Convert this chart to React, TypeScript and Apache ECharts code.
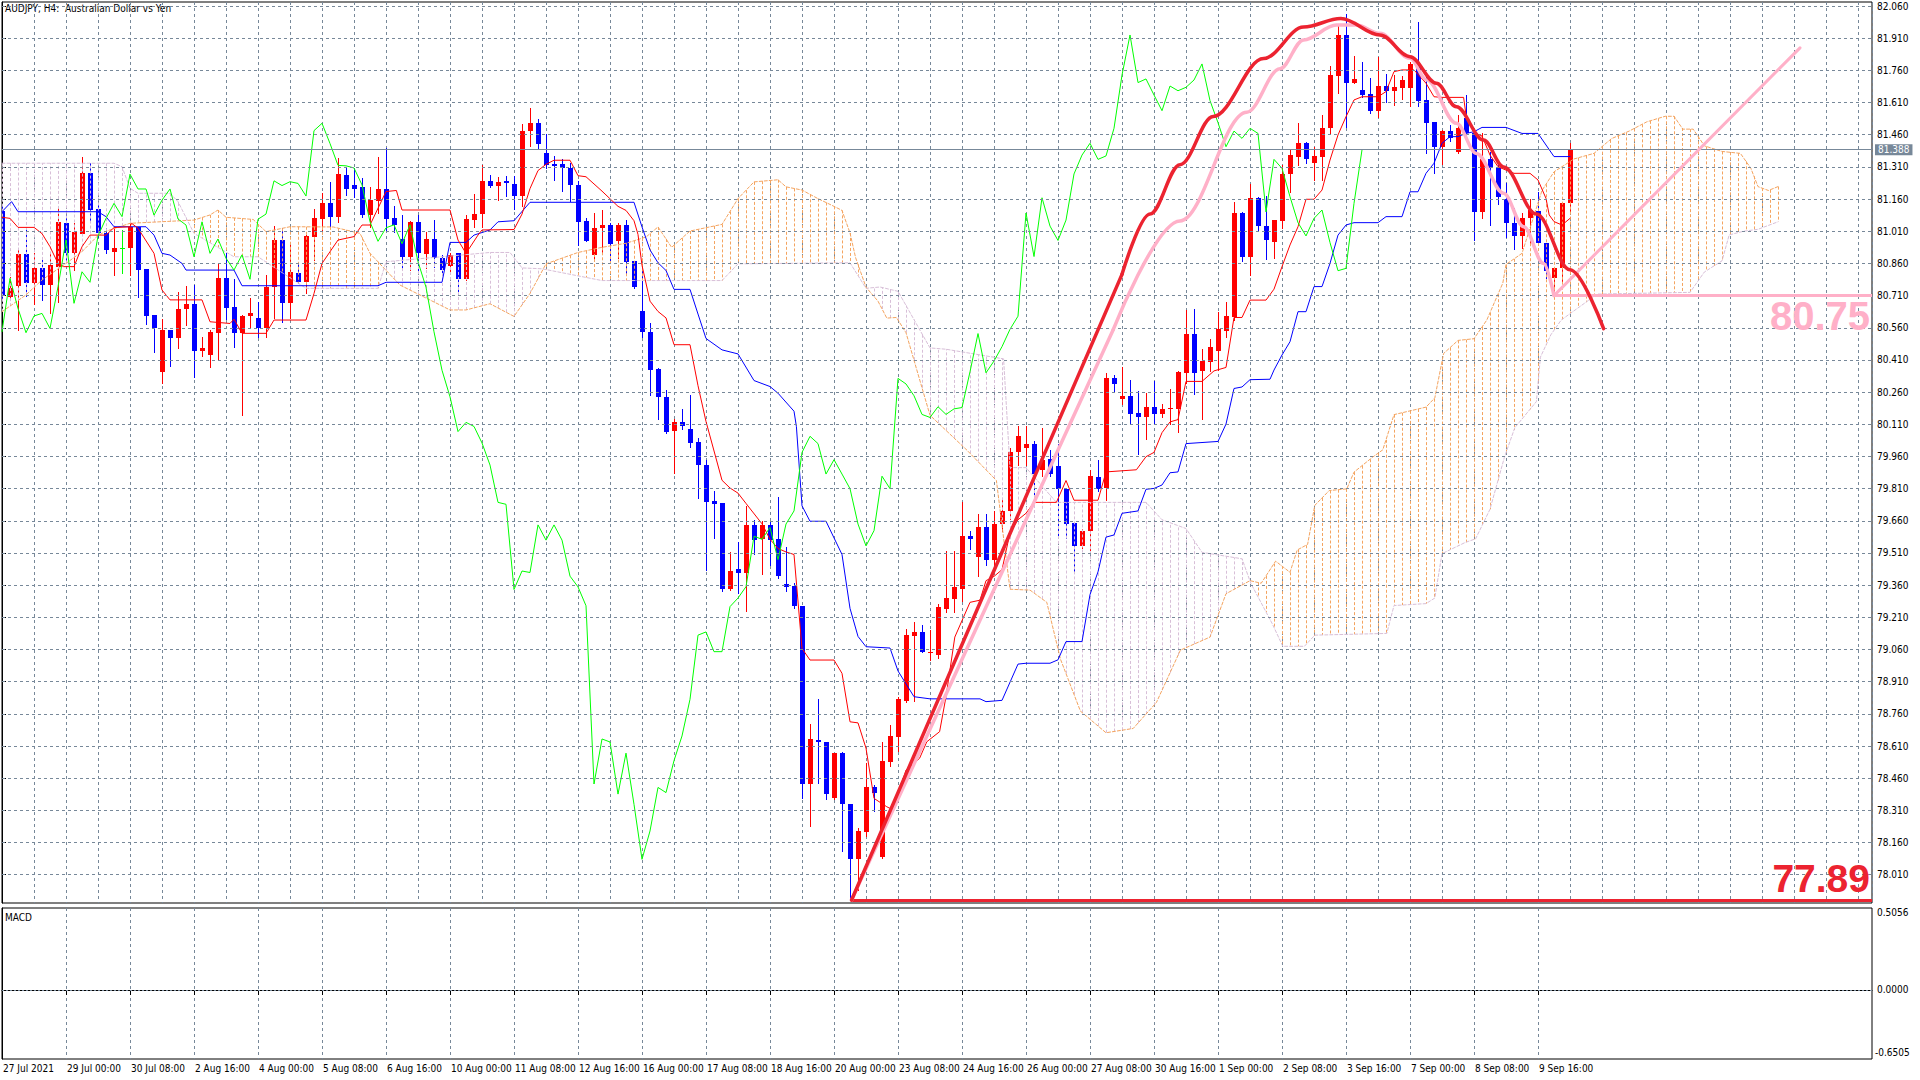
import React, { useEffect, useRef } from "react";
import * as echarts from "echarts";

// ---------- DATA ----------
// H4 candles, bar 0 = 27 Jul 2021 16:00 ... bar 196 = 10 Sep 2021 08:00
const opens = [
  81.106, 80.705, 80.756, 80.902, 80.767, 80.837, 80.76, 80.845, 81.047, 80.907,
  80.999, 81.28, 81.113, 81.0, 80.915, 80.933, 80.933, 81.03, 80.834, 80.62,
  80.355, 80.549, 80.514, 80.646, 80.67, 80.453, 80.434, 80.537, 80.79, 80.655,
  80.537, 80.617, 80.604, 80.557, 80.751, 80.97, 80.674, 80.814, 80.772, 80.985,
  81.067, 81.14, 81.078, 81.272, 81.226, 81.217, 81.085, 81.15, 81.207, 81.07,
  80.974, 80.891, 81.054, 80.904, 80.974, 80.884, 80.85, 80.907, 80.786, 81.063,
  81.089, 81.245, 81.222, 81.245, 81.228, 81.174, 81.479, 81.513, 81.376, 81.322,
  81.322, 81.305, 81.226, 81.059, 80.899, 81.026, 81.04, 80.963, 81.04, 80.873,
  80.636, 80.541, 80.367, 80.238, 80.08, 80.119, 80.088, 80.028, 79.92, 79.751,
  79.741, 79.34, 79.436, 79.419, 79.641, 79.574, 79.641, 79.574, 79.364, 79.355,
  79.264, 78.433, 78.638, 78.629, 78.369, 78.577, 78.338, 78.082, 78.209, 78.417,
  78.092, 78.537, 78.653, 78.821, 79.125, 79.142, 79.045, 79.034, 79.25, 79.296,
  79.341, 79.588, 79.493, 79.629, 79.479, 79.645, 79.706, 79.979, 80.0, 80.02,
  79.898, 79.95, 79.915, 79.81, 79.649, 79.543, 79.614, 79.864, 79.815, 80.324,
  80.229, 80.243, 80.162, 80.142, 80.192, 80.156, 80.18, 80.182, 80.35, 80.533,
  80.359, 80.4, 80.452, 80.547, 80.608, 81.095, 80.892, 81.166, 81.034, 80.96,
  81.059, 81.277, 81.358, 81.42, 81.327, 81.358, 81.49, 81.734, 81.925, 81.703,
  81.668, 81.65, 81.572, 81.687, 81.665, 81.676, 81.676, 81.785, 81.622, 81.521,
  81.404, 81.477, 81.381, 81.536, 81.466, 81.1, 81.345, 81.303, 81.159, 81.05,
  80.988, 81.07, 81.106, 80.957, 80.79, 80.837, 81.14,
];
const highs = [
  81.13, 80.798, 80.93, 81.03, 80.91, 80.875, 80.915, 81.117, 81.085, 81.047,
  81.357, 81.327, 81.132, 81.024, 81.024, 81.015, 81.054, 81.03, 80.834, 80.62,
  80.6, 80.549, 80.728, 80.756, 80.76, 80.518, 80.549, 80.863, 80.91, 80.786,
  80.62, 80.697, 80.681, 80.806, 81.033, 81.024, 80.946, 80.868, 80.992, 81.112,
  81.187, 81.241, 81.35, 81.311, 81.303, 81.257, 81.217, 81.358, 81.396, 81.128,
  81.085, 81.06, 81.085, 81.008, 81.063, 80.899, 80.907, 80.907, 81.085, 81.184,
  81.319, 81.272, 81.264, 81.269, 81.269, 81.508, 81.584, 81.532, 81.465, 81.36,
  81.345, 81.329, 81.245, 81.071, 81.097, 81.107, 81.047, 81.047, 81.061, 80.873,
  80.839, 80.584, 80.374, 80.271, 80.135, 80.183, 80.247, 80.047, 79.944, 79.801,
  79.741, 79.515, 79.562, 79.729, 79.665, 79.658, 79.658, 79.77, 79.538, 79.371,
  79.264, 78.715, 78.829, 78.629, 78.577, 78.584, 78.338, 78.226, 78.529, 78.429,
  78.63, 78.708, 78.84, 79.154, 79.19, 79.174, 79.151, 79.27, 79.519, 79.519,
  79.75, 79.614, 79.69, 79.69, 79.706, 79.756, 80.0, 80.101, 80.1, 80.034,
  80.091, 79.99, 80.02, 79.81, 79.649, 79.624, 79.898, 79.945, 80.35, 80.338,
  80.379, 80.318, 80.263, 80.257, 80.314, 80.203, 80.273, 80.359, 80.643, 80.649,
  80.46, 80.507, 80.634, 80.679, 81.146, 81.101, 81.231, 81.17, 81.176, 81.064,
  81.319, 81.389, 81.516, 81.428, 81.404, 81.552, 81.78, 81.971, 82.023, 81.827,
  81.8, 81.723, 81.824, 81.743, 81.738, 81.734, 81.8, 81.987, 81.734, 81.521,
  81.482, 81.505, 81.552, 81.645, 81.482, 81.466, 81.381, 81.326, 81.236, 81.117,
  81.093, 81.159, 81.194, 80.957, 80.845, 81.148, 81.42,
];
const lows = [
  80.7, 80.69, 80.55, 80.71, 80.67, 80.69, 80.627, 80.681, 80.876, 80.829,
  80.992, 81.062, 80.985, 80.907, 80.806, 80.813, 80.806, 80.705, 80.578, 80.448,
  80.301, 80.383, 80.464, 80.572, 80.332, 80.43, 80.378, 80.41, 80.6, 80.47,
  80.153, 80.557, 80.518, 80.518, 80.604, 80.588, 80.604, 80.767, 80.72, 80.876,
  81.016, 81.031, 81.054, 81.18, 81.171, 81.078, 81.031, 81.094, 81.016, 81.008,
  80.829, 80.829, 80.829, 80.837, 80.845, 80.814, 80.814, 80.713, 80.783, 81.031,
  81.031, 81.217, 81.155, 81.174, 81.114, 81.126, 81.407, 81.4, 81.305, 81.25,
  81.197, 81.15, 80.947, 80.963, 80.875, 80.911, 80.863, 80.887, 80.804, 80.744,
  80.517, 80.247, 80.135, 80.071, 79.885, 80.088, 80.004, 79.765, 79.431, 79.579,
  79.331, 79.336, 79.324, 79.24, 79.503, 79.412, 79.455, 79.395, 79.331, 79.252,
  78.369, 78.238, 78.44, 78.362, 78.362, 78.123, 77.891, 77.939, 78.19, 78.309,
  78.087, 78.518, 78.588, 78.817, 78.821, 79.047, 79.011, 79.02, 79.236, 79.235,
  79.284, 79.527, 79.401, 79.452, 79.422, 79.614, 79.669, 79.919, 79.92, 79.787,
  79.868, 79.868, 79.58, 79.58, 79.416, 79.533, 79.523, 79.797, 79.756, 80.263,
  80.203, 80.111, 79.973, 80.04, 80.111, 80.142, 80.111, 80.075, 80.304, 80.253,
  80.136, 80.359, 80.365, 80.517, 80.598, 80.872, 80.805, 81.014, 80.882, 80.884,
  81.023, 81.194, 81.319, 81.327, 81.249, 81.249, 81.469, 81.656, 81.497, 81.7,
  81.637, 81.56, 81.541, 81.614, 81.6, 81.625, 81.594, 81.594, 81.376, 81.283,
  81.323, 81.432, 81.376, 81.451, 80.969, 81.07, 81.039, 81.137, 80.985, 80.926,
  80.93, 80.954, 80.946, 80.79, 80.72, 80.767, 81.093,
];
const closes = [
  80.71, 80.744, 80.902, 80.767, 80.837, 80.76, 80.853, 81.054, 80.907, 81.008,
  81.28, 81.109, 81.0, 80.922, 80.934, 80.933, 81.03, 80.83, 80.617, 80.558,
  80.549, 80.514, 80.648, 80.67, 80.453, 80.466, 80.542, 80.79, 80.65, 80.537,
  80.615, 80.627, 80.557, 80.751, 80.97, 80.674, 80.821, 80.772, 80.988, 81.07,
  81.14, 81.078, 81.276, 81.207, 81.207, 81.085, 81.155, 81.207, 81.067, 81.039,
  80.891, 81.054, 80.907, 80.974, 80.884, 80.829, 80.9, 80.786, 81.066, 81.09,
  81.245, 81.223, 81.241, 81.233, 81.174, 81.479, 81.513, 81.419, 81.317, 81.315,
  81.305, 81.226, 81.054, 80.963, 81.026, 81.04, 80.952, 81.04, 80.868, 80.749,
  80.541, 80.362, 80.238, 80.076, 80.119, 80.1, 80.023, 79.92, 79.746, 79.737,
  79.34, 79.426, 79.419, 79.641, 79.57, 79.641, 79.57, 79.402, 79.352, 79.264,
  78.433, 78.643, 78.629, 78.386, 78.577, 78.338, 78.082, 78.214, 78.417, 78.393,
  78.542, 78.657, 78.828, 79.127, 79.142, 79.05, 79.05, 79.26, 79.3, 79.353,
  79.588, 79.574, 79.629, 79.479, 79.645, 79.706, 79.979, 80.054, 80.02, 79.878,
  79.945, 79.878, 79.81, 79.645, 79.543, 79.614, 79.868, 79.81, 80.324, 80.298,
  80.243, 80.156, 80.142, 80.192, 80.156, 80.182, 80.188, 80.355, 80.533, 80.35,
  80.405, 80.472, 80.553, 80.614, 81.095, 80.892, 81.166, 81.034, 80.967, 81.062,
  81.277, 81.365, 81.42, 81.345, 81.361, 81.49, 81.738, 81.925, 81.703, 81.72,
  81.645, 81.572, 81.687, 81.665, 81.681, 81.715, 81.79, 81.619, 81.516, 81.404,
  81.477, 81.443, 81.49, 81.466, 81.1, 81.345, 81.303, 81.171, 81.05, 80.988,
  81.07, 81.109, 80.957, 80.826, 80.837, 81.14, 81.389,
];

// Ichimoku lines, read as [bar, price] vertices
const tenkan = [
  [0, 81.075], [1, 81.07], [2, 81.028], [4, 81.028], [5, 80.999], [6, 80.938], [7, 80.86],
  [7.7, 80.845], [9, 80.845], [10, 80.938], [11, 80.992], [13, 80.992], [14, 81.027],
  [16, 81.031], [16.2, 81.047], [17, 81.024], [19, 80.907], [20, 80.736], [21, 80.69],
  [25, 80.69], [26, 80.588], [28.5, 80.58], [29, 80.6], [30, 80.534], [33, 80.534],
  [34, 80.596], [38, 80.596], [39, 80.72], [40, 80.86], [42, 80.969], [44, 80.985],
  [45, 81.039], [46, 81.039], [48, 81.195], [49.3, 81.2], [50, 81.109], [56, 81.109],
  [57, 80.969], [58, 80.907], [59.5, 80.992], [60, 81.016], [64, 81.018], [65, 81.09],
  [66, 81.209], [67, 81.293], [68, 81.322], [69, 81.341], [71, 81.341], [72, 81.269],
  [73, 81.264], [75, 81.197], [77, 81.126], [78, 81.107], [79, 81.059], [79.5, 80.995],
  [80, 80.851], [81, 80.684], [82, 80.636], [83, 80.606], [84, 80.481], [86, 80.481],
  [87, 80.29], [88, 80.123], [90, 79.849], [91, 79.813], [92, 79.789], [93, 79.741],
  [95, 79.646], [96, 79.574], [97, 79.531], [98, 79.515], [99, 79.503], [100, 79.065],
  [101, 79.011], [104, 79.011], [105, 78.949], [106, 78.723], [107, 78.718], [108, 78.6],
  [109, 78.366], [110.6, 78.327], [111.4, 78.312], [113, 78.498], [114.7, 78.553],
  [115.6, 78.63], [117.2, 78.677], [118, 78.84], [119.1, 79.118], [121, 79.28],
  [122.25, 79.29], [123, 79.381], [124, 79.401], [125, 79.432], [126, 79.604],
  [127, 79.665], [128, 79.695], [129, 79.746], [131.8, 79.746], [133, 79.848],
  [134, 79.756], [137, 79.756], [138, 79.888], [141.8, 79.898], [143, 79.959],
  [144, 79.979], [145, 80.071], [146, 80.121], [147, 80.132], [148, 80.31], [150, 80.31],
  [151.5, 80.359], [153, 80.375], [154, 80.608], [155, 80.608], [156, 80.689],
  [158, 80.689], [159, 80.74], [160, 80.845], [161, 80.946], [162, 81.031], [163, 81.159],
  [164, 81.159], [165, 81.202], [166, 81.342], [167, 81.459], [168, 81.544],
  [169, 81.622], [170, 81.637], [172, 81.637], [173, 81.661], [174, 81.754],
  [175, 81.762], [176.5, 81.762], [178, 81.7], [179, 81.637], [180, 81.634],
  [182.7, 81.634], [183, 81.552], [184, 81.47], [185, 81.454], [186, 81.365],
  [187, 81.311], [188, 81.295], [189, 81.28], [191, 81.28], [192, 81.249], [193, 81.163],
  [193.4, 81.086], [194, 81.055], [195, 81.039], [196, 81.07],
];
const kijun = [
  [0, 81.101], [1.2, 81.148], [2, 81.101], [12, 81.101], [13, 81.078], [14, 81.031],
  [18, 81.031], [19, 80.992], [20, 80.907], [21, 80.899], [22.5, 80.86], [23, 80.829],
  [29, 80.829], [30, 80.756], [47, 80.756], [48, 80.772], [55, 80.772], [56, 80.958],
  [58, 80.958], [59, 80.992], [61, 81.016], [62, 81.054], [64, 81.059], [66, 81.145],
  [79, 81.145], [80, 81.03], [81, 80.923], [82, 80.863], [83, 80.827], [84, 80.739],
  [86, 80.739], [87, 80.624], [88, 80.51], [90, 80.457], [92, 80.438], [94, 80.314],
  [96, 80.286], [97, 80.255], [99, 80.171], [99.3, 80.1], [100, 79.73], [101, 79.658],
  [103, 79.658], [105, 79.503], [106, 79.252], [107, 79.121], [108, 79.073],
  [111, 79.067], [112, 78.96], [114, 78.84], [116, 78.83], [122.25, 78.83],
  [123, 78.817], [125, 78.823], [127, 78.992], [128, 78.996], [131, 78.996],
  [132, 79.012], [133, 79.097], [135, 79.097], [136, 79.316], [137, 79.422],
  [138, 79.584], [139, 79.594], [140, 79.695], [142, 79.706], [143, 79.807],
  [144, 79.811], [145, 79.827], [146, 79.884], [147, 79.888], [148, 80.02], [152, 80.03],
  [153, 80.111], [154, 80.277], [155, 80.284], [156, 80.318], [158.5, 80.32],
  [159, 80.363], [160, 80.433], [161, 80.495], [162, 80.635], [163, 80.635],
  [164, 80.752], [165, 80.752], [166, 80.86], [167, 80.992], [168, 81.039], [169, 81.05],
  [172, 81.05], [173, 81.078], [175, 81.078], [176, 81.194], [177, 81.194], [178, 81.28],
  [179, 81.327], [180, 81.42], [181, 81.451], [182, 81.451], [183, 81.466],
  [184, 81.474], [185, 81.494], [188, 81.494], [190, 81.466], [192, 81.466],
  [194, 81.358], [196, 81.358],
];
const senkouA = [
  [0, 80.635], [3, 80.713], [5, 80.783], [8, 80.86], [10, 80.915], [12, 80.99],
  [13, 81.01], [16, 81.047], [24, 81.062], [26, 81.086], [27, 81.109], [28, 81.075],
  [31.4, 81.065], [33, 81.008], [36, 81.031], [41.4, 81.03], [44.75, 81.0], [46, 80.907],
  [49.75, 80.759], [51.8, 80.721], [56, 80.643], [58, 80.643], [61, 80.672],
  [64, 80.613], [66, 80.72], [68, 80.858], [72, 80.911], [75, 80.935], [78, 80.954],
  [80.5, 80.983], [82, 81.03], [83.7, 80.935], [85, 80.978], [86, 81.011], [90, 81.042],
  [92, 81.162], [94, 81.24], [97, 81.25], [98, 81.217], [100, 81.202], [102, 81.162],
  [104, 81.126], [105, 81.107], [106, 81.002], [106.7, 80.887], [108, 80.749],
  [109.5, 80.684], [110.6, 80.605], [111.8, 80.608], [113, 80.537], [116, 80.152],
  [120.6, 79.99], [124.3, 79.848], [126, 79.341], [128.5, 79.337], [130.6, 79.28],
  [132.3, 79.016], [134.8, 78.773], [138, 78.672], [141.4, 78.692], [144.3, 78.813],
  [147.3, 79.057], [151, 79.118], [153, 79.32], [156, 79.381], [157.4, 79.369],
  [159.2, 79.472], [161, 79.42], [161.9, 79.524], [163.2, 79.55], [164.1, 79.732],
  [165.9, 79.801], [168.1, 79.809], [169, 79.887], [171.3, 79.956], [172.6, 79.991],
  [174, 80.155], [178, 80.19], [179.1, 80.233], [180.2, 80.44], [182, 80.501],
  [184, 80.509], [185.6, 80.596], [187.6, 80.768], [188, 80.855], [190, 80.907],
  [192.5, 81.2], [194, 81.287], [196.5, 81.347], [199, 81.373], [201.2, 81.442],
  [203.4, 81.477], [205.6, 81.52], [207.9, 81.546], [209, 81.546], [210.1, 81.486],
  [211.4, 81.486], [212.8, 81.408], [215, 81.382], [217.3, 81.373], [218.6, 81.304],
  [219.5, 81.218], [220.8, 81.2], [222, 81.218],
];
const senkouB = [
  [0, 81.327], [14, 81.327], [15, 81.311], [16, 81.21], [17, 81.187], [21, 81.187],
  [22, 81.148], [24, 81.0], [29, 80.891], [32, 80.891], [38, 80.744], [47, 80.744],
  [48, 80.868], [61, 80.911], [63.5, 80.911], [65, 80.839], [67.5, 80.835], [75, 80.78],
  [90, 80.78], [92, 80.858], [106, 80.863], [108, 80.744], [109.75, 80.75], [112, 80.73],
  [116, 80.466], [118, 80.46], [125.2, 80.415], [126, 79.908], [128, 79.908],
  [131.8, 79.746], [143, 79.746], [145, 79.665], [148, 79.624], [150, 79.513],
  [155, 79.483], [156.1, 79.369], [158.8, 79.179], [160.1, 79.075], [162.8, 79.075],
  [164.1, 79.127], [173.1, 79.135], [174, 79.265], [178, 79.274], [179.1, 79.3],
  [180, 79.507], [182.9, 79.559], [184.2, 79.576], [186, 79.714], [187.8, 79.956],
  [189.1, 80.094], [191.8, 80.216], [192.3, 80.423], [193.6, 80.527], [194.9, 80.596],
  [196.5, 80.639], [199.4, 80.717], [211, 80.725], [212.8, 80.82], [215, 80.872],
  [215.9, 80.993], [217.7, 81.01], [219.5, 81.019], [222, 81.054],
];
const chikouShift = 26;
const cloudLastBar = 222;

// Hand-drawn objects, [bar, price]
const redLeg = [[106.2, 77.892], [140, 80.809]];
const redArc = [
  [140, 80.809], [143.5, 81.09], [147.25, 81.32], [151.4, 81.545], [157.7, 81.815],
  [162.7, 81.962], [167.35, 82.002], [172.25, 81.925], [176, 81.824], [179.3, 81.7],
  [181.8, 81.59], [185.2, 81.435], [187.7, 81.31], [191.8, 81.09], [196, 80.83],
  [200.2, 80.556],
];
const pinkLeg = [[106.2, 77.892], [138.9, 80.551]];
const pinkArc = [
  [138.9, 80.551], [147.25, 81.058], [155.6, 81.565], [159.75, 81.768], [162.7, 81.902],
  [166.8, 81.971], [169.3, 81.971], [172.25, 81.933], [176, 81.816], [178.1, 81.715],
  [181.8, 81.513], [184.3, 81.373], [187.7, 81.187], [190.2, 81.031], [192.7, 80.86],
  [194, 80.71],
];
const pinkRise = [[194, 80.71], [224.75, 81.865]];
const lowLevel = { fromBar: 106.1, price: 77.892, label: "77.89" };
const pinkLevel = { fromBar: 194, price: 80.71, label: "80.75" };
const currentPrice = 81.388;

const priceTicks = [
  82.06, 81.91, 81.76, 81.61, 81.46, 81.31, 81.16, 81.01, 80.86, 80.71, 80.56, 80.41,
  80.26, 80.11, 79.96, 79.81, 79.66, 79.51, 79.36, 79.21, 79.06, 78.91, 78.76, 78.61,
  78.46, 78.31, 78.16, 78.01,
];
const xTickBars = [0, 8, 16, 24, 32, 40, 48, 56, 64, 72, 80, 88, 96, 104, 112, 120, 128, 136, 144, 152, 160, 168, 176, 184, 192];
const xTickLabels = [
  "27 Jul 2021", "29 Jul 00:00", "30 Jul 08:00", "2 Aug 16:00", "4 Aug 00:00",
  "5 Aug 08:00", "6 Aug 16:00", "10 Aug 00:00", "11 Aug 08:00", "12 Aug 16:00",
  "16 Aug 00:00", "17 Aug 08:00", "18 Aug 16:00", "20 Aug 00:00", "23 Aug 08:00",
  "24 Aug 16:00", "26 Aug 00:00", "27 Aug 08:00", "30 Aug 16:00", "1 Sep 00:00",
  "2 Sep 08:00", "3 Sep 16:00", "7 Sep 00:00", "8 Sep 08:00", "9 Sep 16:00",
];
const macdScaleLabels = ["0.5056", "0.0000", "-0.6505"];
const title = "AUDJPY, H4:  Australian Dollar vs Yen";

// ---------- STYLE ----------
const FONT = "'DejaVu Sans Condensed', 'Liberation Sans Narrow', 'Liberation Sans', sans-serif";
const FS = 10;
const GRIDC = "#778899";
const BULL = "#FF0000";
const BEAR = "#0000FF";
const DOJI = "#00FF00";
const SANDY = "#F4A460";
const THISTLE = "#D8BFD8";
const RED_OBJ = "#EC2330";
const PINK_OBJ = "#FFB0C8";

const Y_MIN = 77.8783;
const Y_MAX = 82.0787;
const X_MAX = 233.75;

function valueAt(poly: number[][], x: number): number | null {
  if (x < poly[0][0] || x > poly[poly.length - 1][0]) return null;
  for (let k = 0; k < poly.length - 1; k++) {
    const a = poly[k], b = poly[k + 1];
    if (x >= a[0] && x <= b[0]) {
      if (b[0] === a[0]) return a[1];
      return a[1] + ((b[1] - a[1]) * (x - a[0])) / (b[0] - a[0]);
    }
  }
  return null;
}

export default function App() {
  const ref = useRef<HTMLDivElement>(null);
  useEffect(() => {
    if (!ref.current) return;
    const chart = echarts.init(ref.current, null, { renderer: "svg" });
    const candleData = opens.map((o, i) => [i, o, highs[i], lows[i], closes[i]]);
    const chikou = closes.slice(chikouShift).map((c, j) => [j, c]);
    const cloudBars: number[][] = [];
    for (let j = 0; j <= cloudLastBar; j++) cloudBars.push([j]);
    const labelMap: Record<number, string> = {};
    xTickBars.forEach((b, k) => (labelMap[b] = xTickLabels[k]));

    const lineSeries = (name: string, data: number[][], color: string, width: number, extra: any = {}) => ({
      name,
      type: "line",
      xAxisIndex: 0,
      yAxisIndex: 0,
      data,
      showSymbol: false,
      symbol: "none",
      lineStyle: { color, width, cap: "round", join: "round", ...(extra.lineStyle || {}) },
      z: extra.z ?? 3,
      smooth: extra.smooth ?? false,
      smoothMonotone: extra.smoothMonotone,
      silent: true,
      clip: true,
    });

    const option: any = {
      animation: false,
      backgroundColor: "#ffffff",
      grid: [
        { left: 2, top: 2, width: 1870, height: 901, show: true, borderColor: "#000", borderWidth: 1, backgroundColor: "transparent" },
        { left: 2, top: 908, width: 1870, height: 151, show: true, borderColor: "#000", borderWidth: 1, backgroundColor: "transparent" },
      ],
      xAxis: [
        {
          type: "value", gridIndex: 0, min: 0, max: X_MAX, interval: 4,
          axisLine: { show: false }, axisTick: { show: false }, axisLabel: { show: false },
          splitLine: { show: true, lineStyle: { color: GRIDC, type: [3, 3], width: 1 } },
        },
        {
          type: "value", gridIndex: 1, min: 0, max: X_MAX, interval: 4,
          axisLine: { show: true, lineStyle: { color: "#000" } },
          axisTick: { show: true, customValues: xTickBars, length: 5, lineStyle: { color: "#000" } },
          axisLabel: {
            show: true, customValues: xTickBars, formatter: (v: number) => labelMap[Math.round(v)] || "",
            align: "left", margin: 4, fontSize: FS, fontFamily: FONT, color: "#000", padding: [0, 0, 0, 1],
          },
          splitLine: { show: true, lineStyle: { color: GRIDC, type: [3, 3], width: 1 } },
        },
      ],
      yAxis: [
        {
          type: "value", gridIndex: 0, position: "right", min: Y_MIN, max: Y_MAX,
          axisLine: { show: true, lineStyle: { color: "#000" } },
          axisTick: { show: true, customValues: priceTicks, length: 4, lineStyle: { color: "#000" } },
          axisLabel: {
            show: true, customValues: priceTicks, formatter: (v: number) => v.toFixed(3),
            margin: 5, fontSize: FS, fontFamily: FONT, color: "#000",
          },
          splitLine: { show: false },
        },
        {
          type: "value", gridIndex: 1, position: "right", min: -69, max: 82,
          axisLine: { show: true, lineStyle: { color: "#000" } },
          axisTick: { show: false }, axisLabel: { show: false }, splitLine: { show: false },
        },
      ],
      graphic: [
        { type: "text", left: 5, top: 3, silent: true, style: { text: title, fill: "#000", fontSize: FS, fontFamily: FONT } },
        { type: "text", left: 5, top: 912, silent: true, style: { text: "MACD", fill: "#000", fontSize: FS, fontFamily: FONT } },
        { type: "text", left: 1877, top: 907, silent: true, style: { text: macdScaleLabels[0], fill: "#000", fontSize: FS, fontFamily: FONT } },
        { type: "text", left: 1877, top: 984, silent: true, style: { text: macdScaleLabels[1], fill: "#000", fontSize: FS, fontFamily: FONT } },
        { type: "text", left: 1875, top: 1047, silent: true, style: { text: macdScaleLabels[2], fill: "#000", fontSize: FS, fontFamily: FONT } },
      ],
      series: [
        {
          name: "priceGrid", type: "line", xAxisIndex: 0, yAxisIndex: 0, data: [], z: 1, silent: true,
          markLine: {
            silent: true, symbol: ["none", "none"], animation: false,
            label: { show: false },
            lineStyle: { color: GRIDC, type: [3, 3], width: 1 },
            data: priceTicks.map((v) => ({ yAxis: v })),
          },
        },
        {
          name: "macdZero", type: "line", xAxisIndex: 1, yAxisIndex: 1, data: [], z: 1, silent: true,
          markLine: {
            silent: true, symbol: ["none", "none"], animation: false, label: { show: false },
            lineStyle: { color: GRIDC, type: [2, 2], width: 1 },
            data: [{ yAxis: 0 }],
          },
        },
        {
          name: "candles", type: "custom", xAxisIndex: 0, yAxisIndex: 0, data: candleData, z: 2,
          encode: { x: 0, y: [1, 2, 3, 4] }, silent: true, clip: true,
          renderItem: (params: any, api: any) => {
            const i = api.value(0), o = api.value(1), h = api.value(2), l = api.value(3), c = api.value(4);
            const pO = api.coord([i, o]), pC = api.coord([i, c]), pH = api.coord([i, h]), pL = api.coord([i, l]);
            const x = Math.round(pO[0]);
            const color = c > o ? BULL : c < o ? BEAR : DOJI;
            const top = Math.round(Math.min(pO[1], pC[1]));
            const bot = Math.round(Math.max(pO[1], pC[1]));
            return {
              type: "group",
              children: [
                { type: "line", shape: { x1: x + 0.5, y1: Math.round(pH[1]), x2: x + 0.5, y2: Math.round(pL[1]) + 1 }, style: { stroke: color, lineWidth: 1 } },
                { type: "rect", shape: { x: x - 2, y: top, width: 5, height: Math.max(1, bot - top) }, style: { fill: color } },
              ],
            };
          },
        },
        {
          name: "kumo", type: "custom", xAxisIndex: 0, yAxisIndex: 0, data: cloudBars, z: 3,
          encode: { x: 0 }, silent: true, clip: true,
          renderItem: (params: any, api: any) => {
            const j = api.value(0);
            const a = valueAt(senkouA, j), b = valueAt(senkouB, j);
            if (a == null || b == null) return null;
            const pa = api.coord([j, a]), pb = api.coord([j, b]);
            const x = Math.round(pa[0]) + 0.5;
            return {
              type: "line",
              shape: { x1: x, y1: pa[1], x2: x, y2: pb[1] },
              style: { stroke: a >= b ? SANDY : THISTLE, lineWidth: 1, lineDash: [3, 2] },
            };
          },
        },
        lineSeries("Senkou Span A", senkouA, SANDY, 1, { lineStyle: { type: [3, 2] } }),
        lineSeries("Senkou Span B", senkouB, THISTLE, 1, { lineStyle: { type: [3, 2] } }),
        lineSeries("Kijun-sen", kijun, BEAR, 1),
        lineSeries("Tenkan-sen", tenkan, BULL, 1),
        lineSeries("Chikou Span", chikou, DOJI, 1),
        lineSeries("pinkLeg", pinkLeg, PINK_OBJ, 3.5, { z: 5 }),
        lineSeries("pinkArc", pinkArc, PINK_OBJ, 3.5, { z: 5, smooth: 0.35, smoothMonotone: "x" }),
        lineSeries("pinkRise", pinkRise, PINK_OBJ, 3, { z: 5 }),
        lineSeries("redLeg", redLeg, RED_OBJ, 3.5, { z: 6 }),
        lineSeries("redArc", redArc, RED_OBJ, 3.5, { z: 6, smooth: 0.35, smoothMonotone: "x" }),
        {
          name: "levels", type: "line", xAxisIndex: 0, yAxisIndex: 0, data: [], z: 6, silent: true,
          markLine: {
            silent: true, symbol: ["none", "none"], animation: false,
            data: [
              [
                { coord: [lowLevel.fromBar, lowLevel.price], lineStyle: { color: RED_OBJ, width: 3, type: "solid" },
                  label: { show: true, position: "insideEndTop", formatter: lowLevel.label, color: RED_OBJ, fontSize: 39, fontWeight: "bold", fontFamily: "'Liberation Sans', Arial, sans-serif", distance: [2, 2] } },
                { coord: [X_MAX, lowLevel.price] },
              ],
              [
                { coord: [pinkLevel.fromBar, pinkLevel.price], lineStyle: { color: PINK_OBJ, width: 3, type: "solid" },
                  label: { show: true, position: "insideEndBottom", formatter: pinkLevel.label, color: PINK_OBJ, fontSize: 40, fontWeight: "bold", fontFamily: "'Liberation Sans', Arial, sans-serif", distance: [2, 0] } },
                { coord: [X_MAX, pinkLevel.price] },
              ],
            ],
          },
        },
        {
          name: "current", type: "line", xAxisIndex: 0, yAxisIndex: 0, data: [], z: 4, silent: true,
          markLine: {
            silent: true, symbol: ["none", "none"], animation: false,
            lineStyle: { color: GRIDC, type: "solid", width: 1 },
            label: {
              show: true, position: "end", formatter: currentPrice.toFixed(3), color: "#fff",
              backgroundColor: GRIDC, padding: [1, 3, 0, 3], fontSize: FS, fontFamily: FONT, distance: 3,
            },
            data: [{ yAxis: currentPrice }],
          },
        },
      ],
    };
    chart.setOption(option);
    return () => chart.dispose();
  }, []);
  return (
    <div
      ref={ref}
      style={{ position: "fixed", left: 0, top: 0, width: 1920, height: 1080, background: "#fff" }}
    />
  );
}
